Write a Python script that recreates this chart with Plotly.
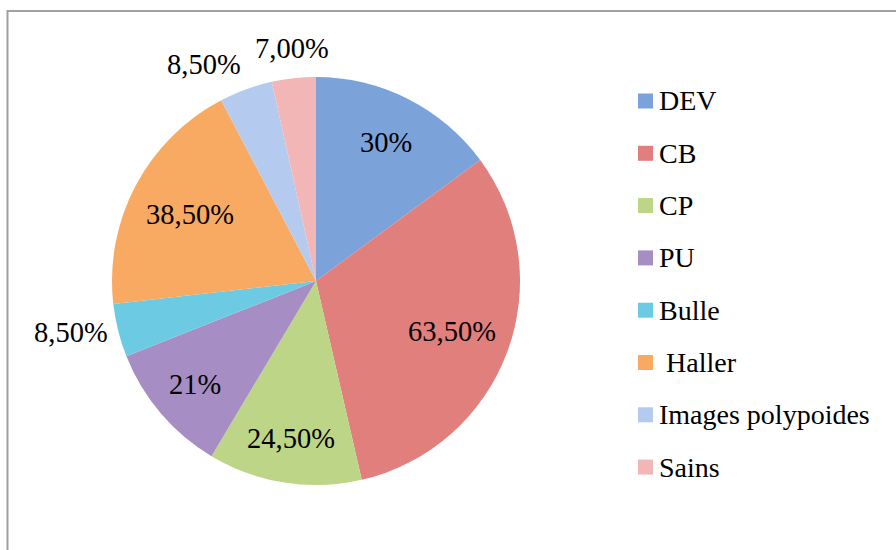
import math
import plotly.graph_objects as go

W, H = 896, 550

categories = ["DEV", "CB", "CP", "PU", "Bulle", " Haller", "Images polypoides", "Sains"]
values = [30, 63.5, 24.5, 21, 8.5, 38.5, 8.5, 7.0]
value_labels = ["30%", "63,50%", "24,50%", "21%", "8,50%", "38,50%", "8,50%", "7,00%"]
colors = ["#7ba3da", "#e17f7c", "#bdd586", "#a68dc4", "#6ccbe2", "#f8a962", "#b4cbef", "#f3b6b6"]
label_outside = [False, False, False, False, True, False, True, True]
# radial placement factor of each data label (style only)
label_radius = [0.76, 0.71, 0.78, 0.78, 1.04, 0.70, 1.04, 1.06]

FONT = "Liberation Serif"
FS_LABEL = 28.5
FS_LEGEND = 28

# pie geometry (pixels)
cx, cy, r = 316, 281, 204

fig = go.Figure()
fig.add_trace(go.Pie(
    labels=categories,
    values=values,
    text=value_labels,
    textinfo="none",
    sort=False,
    direction="clockwise",
    rotation=0,
    marker=dict(colors=colors, line=dict(width=0)),
    domain=dict(x=[(cx - r) / W, (cx + r) / W], y=[1 - (cy + r) / H, 1 - (cy - r) / H]),
    showlegend=False,
    hoverinfo="label+text",
))

shapes = [dict(type="rect", xref="paper", yref="paper",
               x0=7.5 / W, y0=-0.05, x1=1.05, y1=1 - 11 / H,
               line=dict(color="#a0a0a0", width=2), fillcolor="rgba(0,0,0,0)", layer="below")]
annotations = []

# data labels placed at each slice's mid-angle (computed from the values)
total = sum(values)
cum = 0.0
for v, txt, outside, rf in zip(values, value_labels, label_outside, label_radius):
    mid = (cum + v / 2) / total * 2 * math.pi
    cum += v
    s, c = math.sin(mid), math.cos(mid)
    R = r * rf
    if outside:
        xa = "center" if abs(s) < 0.3 else ("left" if s > 0 else "right")
        ya = "middle" if abs(c) < 0.3 else ("bottom" if c > 0 else "top")
    else:
        xa, ya = "center", "middle"
    px, py = cx + R * s, cy - R * c
    annotations.append(dict(xref="paper", yref="paper", x=px / W, y=1 - py / H,
                            text=txt, showarrow=False, xanchor=xa, yanchor=ya,
                            font=dict(family=FONT, size=FS_LABEL, color="#000000")))

# custom legend
lx, ly0, dy, sq = 638, 101, 52.3, 15
for i, (cat, col) in enumerate(zip(categories, colors)):
    yc = ly0 + i * dy
    shapes.append(dict(type="rect", xref="paper", yref="paper",
                       x0=lx / W, x1=(lx + sq) / W,
                       y0=1 - (yc + sq / 2) / H, y1=1 - (yc - sq / 2) / H,
                       fillcolor=col, line=dict(width=0)))
    annotations.append(dict(xref="paper", yref="paper", x=(lx + sq + 4) / W, y=1 - yc / H,
                            text=cat, showarrow=False, xanchor="left", yanchor="middle",
                            font=dict(family=FONT, size=FS_LEGEND, color="#000000")))

fig.update_layout(
    width=W, height=H,
    margin=dict(l=0, r=0, t=0, b=0),
    paper_bgcolor="white",
    plot_bgcolor="white",
    shapes=shapes,
    annotations=annotations,
)

fig.write_html("out.html", config={"displayModeBar": False},
               post_script="document.body.style.margin='0';")
